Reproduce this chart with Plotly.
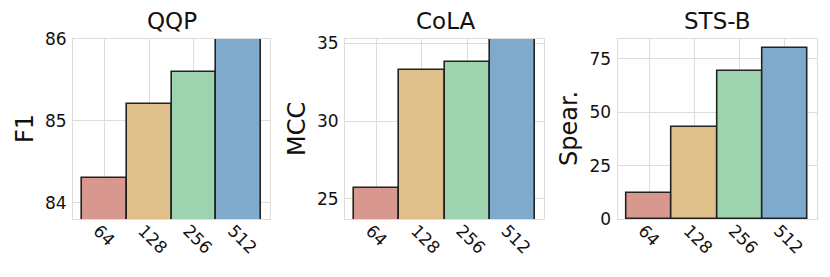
import plotly.graph_objects as go

categories = ["64", "128", "256", "512"]
qqp_f1 = [84.3, 85.2, 85.6, 86.3]
cola_mcc = [25.7, 33.3, 33.8, 35.6]
stsb_spear = [12.1, 43.1, 69.1, 79.9]
titles = ["QQP", "CoLA", "STS-B"]
ylabels = ["F1", "MCC", "Spear."]
yranges = [[83.8, 86.0], [23.7, 35.28], [0, 84.3]]
dticks = [1, 5, 25]
bar_colors = ["#D9988E", "#E0C08A", "#9DD3AE", "#7FAACC"]

W, H = 830, 277
OFF = 8  # page body margin offset
xdom_px = [(73, 270), (345, 544), (617.5, 816.5)]
ydom = [(H - (219 - OFF)) / H, (H - (39 - OFF)) / H]
title_x_px = [172, 445, 717]
ylab_x_px = [25, 297, 569]

fig = go.Figure()
series = [qqp_f1, cola_mcc, stsb_spear]
font = "DejaVu Sans"
for i, vals in enumerate(series):
    ax = "" if i == 0 else str(i + 1)
    fig.add_trace(go.Bar(
        x=categories, y=vals,
        marker=dict(color=bar_colors, line=dict(color="#222222", width=1.6)),
        width=1.0, xaxis="x" + ax, yaxis="y" + ax, showlegend=False,
    ))
    dom = [(xdom_px[i][0] - OFF) / W, (xdom_px[i][1] - OFF) / W]
    axis_common = dict(showline=True, mirror=True, linecolor="#dddddd", linewidth=1,
                       showgrid=True, gridcolor="#dddddd", gridwidth=1, zeroline=False,
                       automargin=False,
                       tickfont=dict(family=font, size=17, color="#111111"))
    fig.layout["xaxis" + ax] = dict(domain=dom, anchor="y" + ax, range=[-0.7, 3.7],
                                   tickangle=45, ticklabelshift=-6, ticklabelstandoff=-6,
                                   **axis_common)
    fig.layout["yaxis" + ax] = dict(domain=ydom, anchor="x" + ax, range=yranges[i],
                                   dtick=dticks[i], ticklabelstandoff=2, **axis_common)
    fig.add_annotation(text=titles[i], x=(title_x_px[i] - OFF) / W, y=(H - (21 - OFF)) / H,
                       xref="paper", yref="paper", showarrow=False,
                       xanchor="center", yanchor="middle",
                       font=dict(family=font, size=23, color="#111111"))
    fig.add_annotation(text=ylabels[i], x=(ylab_x_px[i] - OFF) / W, y=(H - (129 - OFF)) / H,
                       xref="paper", yref="paper", showarrow=False, textangle=-90,
                       xanchor="center", yanchor="middle",
                       font=dict(family=font, size=24, color="#111111"))

fig.update_layout(width=W, height=H, margin=dict(l=0, r=0, t=0, b=0),
                  plot_bgcolor="white", paper_bgcolor="white", bargap=0)
fig.write_html("out.html")
